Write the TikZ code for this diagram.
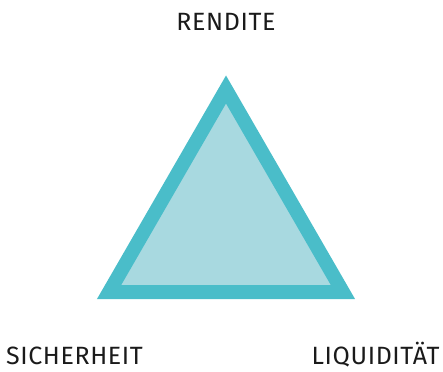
\documentclass[tikz,border=0pt]{standalone}
\usepackage{fontspec}
\setmainfont[LetterSpace=2.5]{Fira Sans}
\definecolor{tealedge}{HTML}{4ABDC9}
\definecolor{tealfill}{HTML}{A8D9E0}
\definecolor{labeltext}{HTML}{1A1A1A}
\begin{document}
\begin{tikzpicture}[x=1pt,y=-1pt,
  lbl/.style={font=\fontsize{25}{29}\selectfont, text=labeltext, inner sep=0pt, text depth=0pt, anchor=base}]
\useasboundingbox (0,0) rectangle (443,371);
\coordinate (top) at (226,89.5);
\coordinate (bl) at (109.1,292);
\coordinate (br) at (342.9,292);
\draw[line width=14pt, draw=tealedge, fill=tealfill, line join=miter]
  (top) -- (bl) -- (br) -- cycle;
\node[lbl] (rendite) at (226,31) {RENDITE};
\node[lbl] (sicherheit) at (74.5,364) {SICHERHEIT};
\node[lbl] (liquiditaet) at (375.5,364) {LIQUIDITÄT};
\end{tikzpicture}
\end{document}
